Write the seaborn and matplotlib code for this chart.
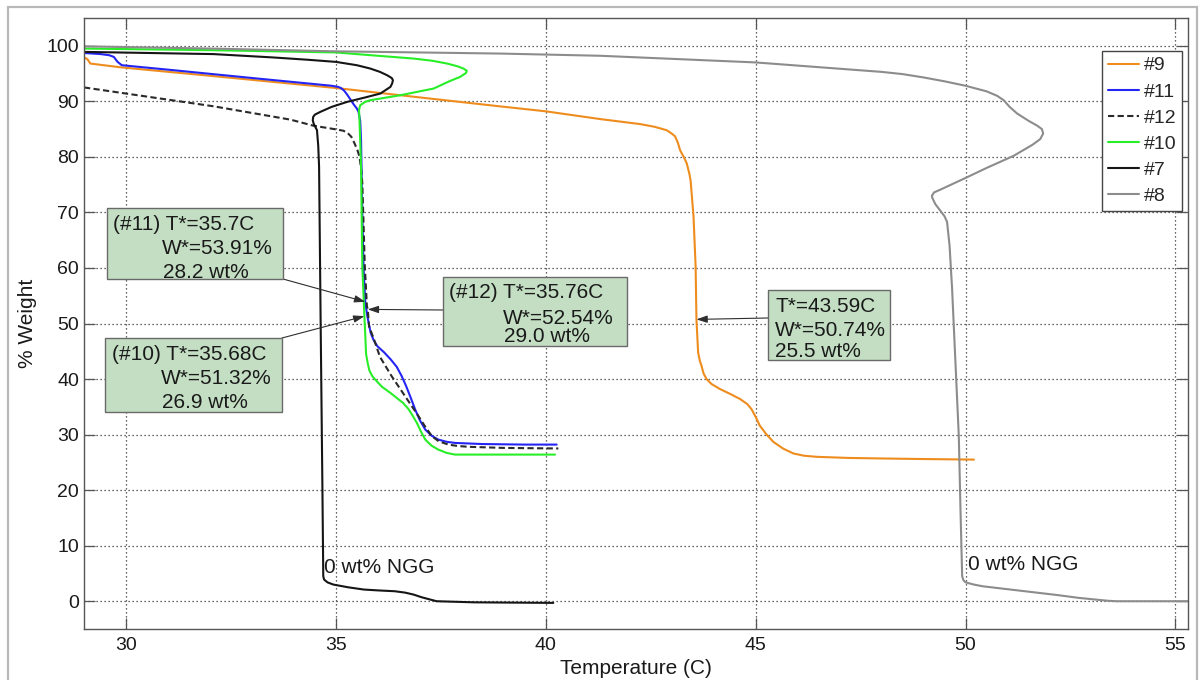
import matplotlib
matplotlib.use("Agg")
import matplotlib.pyplot as plt
import pandas as pd
import seaborn as sns
from matplotlib.patches import Rectangle

# ---- TGA curves: temperature (C) vs. % weight -------------------------------
temp_9 = [29.0, 29.08, 29.15, 29.9, 32.0, 35.0, 37.0, 38.9, 40.0, 41.3, 42.25,
          42.6, 42.88, 43.0, 43.08, 43.15, 43.2, 43.3, 43.36, 43.42, 43.45,
          43.52, 43.57, 43.59, 43.63, 43.67, 43.71, 43.76, 43.83, 43.95, 44.15,
          44.4, 44.63, 44.8, 44.9, 45.0, 45.1, 45.25, 45.42, 45.65, 45.9,
          46.15, 46.45, 47.2, 48.0, 49.0, 50.2]
weight_9 = [97.9, 97.6, 96.8, 96.1, 94.6, 92.4, 90.7, 89.1, 88.2, 86.8, 85.9,
            85.4, 84.8, 84.2, 83.7, 82.5, 81.2, 79.8, 78.8, 77.0, 75.8,
            69.3, 60.3, 50.74, 44.8, 43.3, 42.4, 41.0, 40.0, 39.1, 38.2,
            37.3, 36.4, 35.5, 34.6, 33.2, 31.6, 30.1, 28.7, 27.5, 26.6,
            26.2, 26.0, 25.8, 25.7, 25.6, 25.5]

temp_11 = [29.0, 29.4, 29.6, 29.71, 29.76, 29.8, 29.9, 31.0, 33.0, 34.9, 35.05,
           35.12, 35.2, 35.27, 35.42, 35.5, 35.54, 35.58, 35.6, 35.63, 35.66,
           35.7, 35.75, 35.83, 35.9, 35.99, 36.15, 36.31, 36.45, 36.57, 36.67,
           36.77, 36.89, 37.0, 37.13, 37.28, 37.44, 37.64, 37.84, 38.48, 39.5,
           40.26]
weight_11 = [98.7, 98.5, 98.3, 98.0, 97.5, 97.1, 96.5, 95.7, 94.2, 92.8, 92.6,
             92.4, 91.9, 91.2, 89.5, 88.7, 88.1, 86.5, 83.0, 70.0, 60.0,
             53.91, 51.3, 48.3, 47.0, 45.9, 44.8, 43.5, 42.2, 40.5, 38.8,
             36.9, 34.5, 32.6, 30.9, 29.8, 29.1, 28.7, 28.5, 28.3, 28.2,
             28.2]

temp_12 = [29.0, 30.0, 32.09, 33.92, 34.47, 34.8, 35.04, 35.18, 35.28, 35.37,
           35.44, 35.51, 35.56, 35.6, 35.63, 35.69, 35.74, 35.76, 35.79, 35.91,
           36.05, 36.33, 36.65, 36.97, 37.13, 37.29, 37.45, 37.68, 37.9, 38.16,
           39.0, 40.3]
weight_12 = [92.5, 91.4, 89.1, 86.7, 85.6, 85.2, 84.9, 84.7, 84.3, 83.6,
             82.5, 81.3, 80.1, 78.0, 75.3, 60.3, 53.1, 52.54, 49.5, 47.1,
             44.0, 40.5, 36.9, 33.3, 31.4, 29.7, 28.8, 28.2, 27.95, 27.8,
             27.6, 27.5]

temp_10 = [29.0, 32.09, 35.0, 36.0, 36.85, 37.3, 37.65, 37.9, 38.04, 38.12,
           38.1, 37.96, 37.7, 37.33, 36.54, 35.82, 35.7, 35.58, 35.55, 35.56,
           35.6, 35.63, 35.68, 35.7, 35.72, 35.76, 35.8, 35.87, 35.95, 36.1,
           36.3, 36.45, 36.6, 36.73, 36.83, 36.93, 37.03, 37.13, 37.28, 37.44,
           37.64, 37.84, 39.0, 40.22]
weight_10 = [99.5, 99.2, 98.8, 98.2, 97.7, 97.3, 96.8, 96.3, 95.9, 95.5,
             95.1, 94.4, 93.6, 92.3, 91.1, 90.2, 89.9, 89.3, 88.4, 87.3,
             78.3, 60.3, 51.32, 48.0, 44.5, 42.8, 41.5, 40.5, 39.8, 38.6,
             37.5, 36.6, 35.7, 34.6, 33.4, 32.1, 30.5, 29.1, 28.0, 27.3,
             26.7, 26.4, 26.4, 26.4]

temp_7 = [29.0, 32.09, 33.5, 34.3, 35.0, 35.5, 35.82, 36.05, 36.22, 36.33,
          36.36, 36.34, 36.3, 36.2, 36.06, 35.7, 35.27, 34.9, 34.63, 34.5,
          34.46, 34.45, 34.47, 34.55, 34.58, 34.6, 34.64, 34.68, 34.7, 34.72,
          34.8, 34.94, 35.3, 35.67, 36.0, 36.4, 36.65, 36.85, 37.05, 37.2,
          37.4, 38.3, 40.18]
weight_7 = [98.9, 98.5, 97.9, 97.5, 97.1, 96.5, 95.9, 95.3, 94.7, 94.2,
            93.8, 93.2, 92.6, 92.1, 91.4, 90.7, 89.9, 89.0, 88.1, 87.6,
            87.2, 86.6, 86.0, 84.8, 82.0, 78.3, 48.3, 20.0, 4.5, 3.9,
            3.4, 3.0, 2.5, 2.1, 1.95, 1.8, 1.55, 1.2, 0.7, 0.4,
            0.0, -0.2, -0.3]

temp_8 = [29.0, 32.0, 35.0, 38.9, 41.3, 45.0, 48.0, 48.5, 49.0, 49.5,
          50.0, 50.5, 50.75, 50.91, 51.05, 51.23, 51.5, 51.71, 51.82, 51.85,
          51.78, 51.6, 51.15, 50.5, 50.0, 49.6, 49.4, 49.25, 49.2, 49.21,
          49.28, 49.4, 49.5, 49.56, 49.62, 49.68, 49.76, 49.84, 49.88, 49.92,
          49.95, 50.0, 50.2, 50.4, 51.3, 52.2, 52.7, 53.1, 53.4, 53.6,
          55.3]
weight_8 = [99.9, 99.5, 99.0, 98.6, 98.2, 97.0, 95.3, 94.9, 94.3, 93.6,
            92.8, 91.8, 91.0, 90.2, 89.0, 87.8, 86.5, 85.6, 85.0, 84.2,
            83.2, 82.2, 80.2, 78.0, 76.2, 74.8, 74.1, 73.6, 73.0, 72.6,
            71.5, 70.3, 69.3, 68.3, 64.0, 56.3, 43.0, 29.7, 16.5, 4.5,
            3.8, 3.4, 3.0, 2.7, 1.9, 1.1, 0.6, 0.3, 0.08, 0.0,
            0.0]

samples = ["#9", "#11", "#12", "#10", "#7", "#8"]
temps = [temp_9, temp_11, temp_12, temp_10, temp_7, temp_8]
weights = [weight_9, weight_11, weight_12, weight_10, weight_7, weight_8]

# transition points marked with call-outs
tstar_samples = ["#11", "#10", "#12", "#9"]
tstar_temp = [35.7, 35.68, 35.76, 43.59]
tstar_weight = [53.91, 51.32, 52.54, 50.74]
ngg_wt = [28.2, 26.9, 29.0, 25.5]

palette = {"#9": "#EE8C1E", "#11": "#2424F5", "#12": "#2A2A2A",
           "#10": "#28EE28", "#7": "#151515", "#8": "#8C8C8C"}
dash_map = {"#9": "", "#11": "", "#12": (3, 1.6), "#10": "", "#7": "", "#8": ""}

df = pd.concat(
    [pd.DataFrame({"Temperature": t, "Weight": w, "Sample": s})
     for s, t, w in zip(samples, temps, weights)],
    ignore_index=True,
)

sns.set_style("ticks")
plt.rcParams["font.family"] = ["Liberation Sans", "DejaVu Sans"]

W, H = 1200, 680
fig = plt.figure(figsize=(W / 100, H / 100), dpi=100)
ax = fig.add_axes([84 / W, 1 - 629 / H, 1104 / W, 611 / H])


def fig_xy(px, py):
    return px / W, 1 - py / H


sns.lineplot(data=df, x="Temperature", y="Weight", hue="Sample", style="Sample",
             hue_order=samples, style_order=samples, palette=palette,
             dashes=dash_map, sort=False, estimator=None, linewidth=1.5, ax=ax)

ax.set_xlim(29, 55.3)
ax.set_ylim(-5, 105)
ax.set_xticks(range(30, 56, 5))
ax.set_yticks(range(0, 101, 10))
ax.set_axisbelow(True)
ax.grid(True, linestyle=(0, (1, 2.2)), color="#333333", linewidth=0.9)
for sp in ax.spines.values():
    sp.set_visible(True)
    sp.set_color("#555555")
    sp.set_linewidth(1.0)
ax.tick_params(axis="both", which="major", direction="in", length=8, width=0.9,
               color="#555555", top=True, right=True, labelsize=14,
               labelcolor="#1a1a1a")
ax.tick_params(axis="x", pad=6)
ax.tick_params(axis="y", pad=3.5)
ax.set_xlabel("Temperature (C)", fontsize=15, labelpad=3, color="#1a1a1a")
ax.set_ylabel("% Weight", fontsize=15, labelpad=7, color="#1a1a1a")

handles, labels = ax.get_legend_handles_labels()
leg = ax.legend(handles, labels, loc="upper right",
                bbox_to_anchor=fig_xy(1182, 51), bbox_transform=fig.transFigure,
                borderaxespad=0, fontsize=14, frameon=True, fancybox=False,
                handlelength=1.6, handletextpad=0.25, labelspacing=0.44,
                borderpad=0.3)
leg.get_frame().set_edgecolor("#444444")
leg.get_frame().set_linewidth(1.0)
leg.get_frame().set_alpha(1.0)

# "0 wt% NGG" labels next to the pure-sample curves
ax.text(34.71, 6.0, "0 wt% NGG", fontsize=15, ha="left", va="center",
        color="#1a1a1a")
ax.text(50.05, 6.6, "0 wt% NGG", fontsize=15, ha="left", va="center",
        color="#1a1a1a")

# call-out boxes: (box x0, y0, x1, y1), text line anchors, arrow start (pixels)
callouts = {
    "#11": dict(box=(107, 208, 283, 279),
                lines=[(113, 225), (162, 248), (163, 272)], start=(283, 279)),
    "#10": dict(box=(105, 338, 282, 412),
                lines=[(112, 355), (161, 379), (162, 403)], start=(282, 338)),
    "#12": dict(box=(443, 277, 627, 346),
                lines=[(449, 293), (503, 318), (504, 337)], start=(443, 310)),
    "#9": dict(box=(768, 290, 890, 360),
               lines=[(775, 307), (775, 330), (775, 351)], start=(768, 318)),
}

for s, t, w, c in zip(tstar_samples, tstar_temp, tstar_weight, ngg_wt):
    spec = callouts[s]
    x0, y0, x1, y1 = spec["box"]
    ax.annotate("", xy=(t, w), xycoords="data",
                xytext=fig_xy(*spec["start"]), textcoords="figure fraction",
                arrowprops=dict(arrowstyle="-|>,head_length=0.65,head_width=0.22",
                                color="#2e2e2e", lw=0.8, shrinkA=0, shrinkB=0,
                                mutation_scale=10),
                zorder=4)
    fig.add_artist(Rectangle(fig_xy(x0, y1), (x1 - x0) / W, (y1 - y0) / H,
                             transform=fig.transFigure, facecolor="#C3DEC3",
                             edgecolor="#6a6a6a", linewidth=1.0, zorder=5))
    first = f"T*={t}C" if s == "#9" else f"({s}) T*={t}C"
    texts = [first, f"W*={w}%", f"{c:.1f} wt%"]
    for (px, py), txt in zip(spec["lines"], texts):
        fx, fy = fig_xy(px, py)
        fig.text(fx, fy, txt, fontsize=15, ha="left", va="center",
                 color="#1a1a1a", zorder=6)

# light frame around the whole figure
fig.add_artist(Rectangle((8 / W, -0.02), (1197 - 8) / W, 1 - 7 / H + 0.02,
                         transform=fig.transFigure, fill=False,
                         edgecolor="#B8B8B8", linewidth=1.6, zorder=0))

fig.savefig("out.png", dpi=100, facecolor="white")
